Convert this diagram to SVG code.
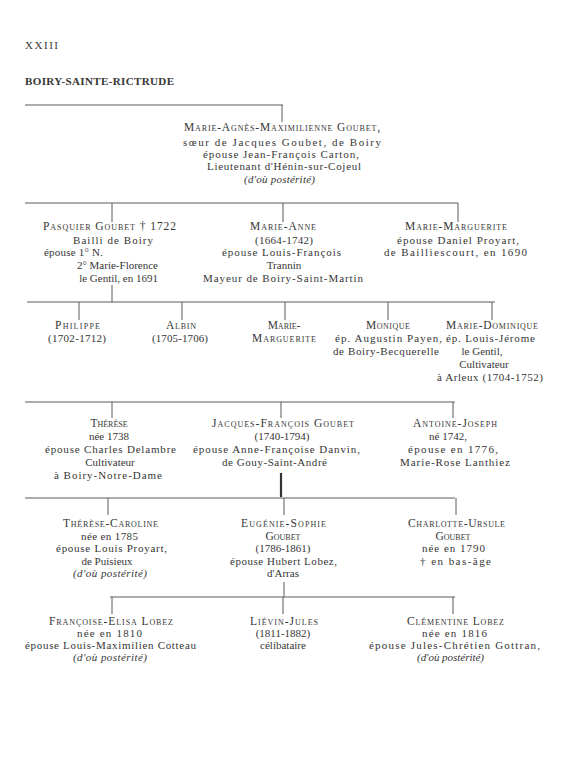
<svg xmlns="http://www.w3.org/2000/svg" width="575" height="768" viewBox="0 0 575 768">
<style>
text { font-family: "Liberation Serif", "DejaVu Serif", serif; font-size: 11px; fill: #363636; }
.sc { font-variant: small-caps; font-size: 11.5px; }
.i { font-style: italic; }
.m { text-anchor: middle; }
.e { text-anchor: end; }
.hd { font-size: 11px; }
.b { font-weight: bold; }
.ln { stroke: #5a5a5a; stroke-width: 1; fill: none; }
.thick { stroke: #333; stroke-width: 2.2; fill: none; }
</style>
<rect width="575" height="768" fill="#ffffff"/>
<g id="header">
<text class="hd" x="25" y="49" textLength="33" lengthAdjust="spacing">XXIII</text>
<text class="hd b" x="25" y="85" textLength="149" lengthAdjust="spacing">BOIRY-SAINTE-RICTRUDE</text>
</g>
<g id="connectors">
<path class="ln" d="M25,105 H283 M282,105 V122"/>
<path class="ln" d="M25,203 H458 M112,203 V222 M283,203 V222 M458,203 V222"/>
<path class="ln" d="M112,285 V302 M27,302 H495 M79,302 V320 M182,302 V320 M285,302 V320 M388,302 V320 M492,302 V320"/>
<path class="ln" d="M25,402 H455 M112,402 V418 M281,402 V418 M453,402 V418"/>
<path class="thick" d="M281,473 V497"/>
<path class="ln" d="M25,498 H455 M108,498 V515 M284,498 V515 M456,498 V515"/>
<path class="ln" d="M284,582 V597 M110,597 H455 M112,597 V614 M283,597 V614 M453,597 V614"/>
</g>
<g id="marie-agnes">
<text class="sc" x="184" y="131" textLength="196" lengthAdjust="spacing">Marie-Agnès-Maximilienne Goubet,</text>
<text x="183" y="145.5" textLength="198" lengthAdjust="spacing">sœur de Jacques Goubet, de Boiry</text>
<text x="203" y="158" textLength="156" lengthAdjust="spacing">épouse Jean-François Carton,</text>
<text x="207" y="170" textLength="154" lengthAdjust="spacing">Lieutenant d'Hénin-sur-Cojeul</text>
<text class="i" x="244" y="183" textLength="71" lengthAdjust="spacing">(d'où postérité)</text>
</g>
<g id="pasquier">
<text class="sc" x="43" y="230" textLength="133" lengthAdjust="spacing">Pasquier Goubet † 1722</text>
<text x="73" y="243.5" textLength="80" lengthAdjust="spacing">Bailli de Boiry</text>
<text x="44" y="256" textLength="59" lengthAdjust="spacing">épouse 1° N.</text>
<text class="e" x="158" y="268.5">2° Marie-Florence</text>
<text class="e" x="158" y="281.5">le Gentil, en 1691</text>
</g>
<g id="marie-anne">
<text class="sc" x="250" y="230" textLength="66" lengthAdjust="spacing">Marie-Anne</text>
<text x="255" y="243.5" textLength="58" lengthAdjust="spacing">(1664-1742)</text>
<text x="222" y="256" textLength="119" lengthAdjust="spacing">épouse Louis-François</text>
<text class="m" x="284" y="268.5">Trannin</text>
<text x="203" y="281.5" textLength="160" lengthAdjust="spacing">Mayeur de Boiry-Saint-Martin</text>
</g>
<g id="marie-marguerite-1">
<text class="sc" x="405" y="230" textLength="102" lengthAdjust="spacing">Marie-Marguerite</text>
<text x="397" y="243.5" textLength="122" lengthAdjust="spacing">épouse Daniel Proyart,</text>
<text x="384" y="256" textLength="143" lengthAdjust="spacing">de Bailliescourt, en 1690</text>
</g>
<g id="philippe">
<text class="sc" x="55" y="328.5" textLength="45" lengthAdjust="spacing">Philippe</text>
<text x="48" y="341.5" textLength="58" lengthAdjust="spacing">(1702-1712)</text>
</g>
<g id="albin">
<text class="sc" x="166" y="328.5" textLength="30" lengthAdjust="spacing">Albin</text>
<text x="152" y="341.5" textLength="56" lengthAdjust="spacing">(1705-1706)</text>
</g>
<g id="marie-marguerite-2">
<text class="sc m" x="284" y="328.5">Marie-</text>
<text class="sc" x="252" y="341.5" textLength="64" lengthAdjust="spacing">Marguerite</text>
</g>
<g id="monique">
<text class="sc" x="366" y="328.5" textLength="44" lengthAdjust="spacing">Monique</text>
<text x="335" y="341.5" textLength="107" lengthAdjust="spacing">ép. Augustin Payen,</text>
<text x="333" y="354.5" textLength="106" lengthAdjust="spacing">de Boiry-Becquerelle</text>
</g>
<g id="marie-dominique">
<text class="sc" x="446" y="328.5" textLength="92" lengthAdjust="spacing">Marie-Dominique</text>
<text x="446" y="341.5" textLength="89" lengthAdjust="spacing">ép. Louis-Jérome</text>
<text class="m" x="482" y="354.5">le Gentil,</text>
<text class="m" x="484" y="367.5">Cultivateur</text>
<text x="437" y="380.5" textLength="106" lengthAdjust="spacing">à Arleux (1704-1752)</text>
</g>
<g id="therese">
<text class="sc m" x="109" y="426.5">Thérèse</text>
<text class="m" x="109" y="440">née 1738</text>
<text x="45" y="453" textLength="131" lengthAdjust="spacing">épouse Charles Delambre</text>
<text class="m" x="110" y="466">Cultivateur</text>
<text x="54" y="479" textLength="108" lengthAdjust="spacing">à Boiry-Notre-Dame</text>
</g>
<g id="jacques-francois">
<text class="sc" x="212" y="426.5" textLength="142" lengthAdjust="spacing">Jacques-François Goubet</text>
<text class="m" x="282" y="440">(1740-1794)</text>
<text x="193" y="453" textLength="167" lengthAdjust="spacing">épouse Anne-Françoise Danvin,</text>
<text x="222" y="466" textLength="105" lengthAdjust="spacing">de Gouy-Saint-André</text>
</g>
<g id="antoine-joseph">
<text class="sc" x="413" y="426.5" textLength="84" lengthAdjust="spacing">Antoine-Joseph</text>
<text class="m" x="448" y="440">né 1742,</text>
<text x="408" y="453" textLength="90" lengthAdjust="spacing">épouse en 1776,</text>
<text x="400" y="466" textLength="110" lengthAdjust="spacing">Marie-Rose Lanthiez</text>
</g>
<g id="therese-caroline">
<text class="sc" x="63" y="526.5" textLength="95" lengthAdjust="spacing">Thérèse-Caroline</text>
<text x="81" y="539.5" textLength="57" lengthAdjust="spacing">née en 1785</text>
<text x="56" y="552" textLength="111" lengthAdjust="spacing">épouse Louis Proyart,</text>
<text class="m" x="107" y="564.5">de Puisieux</text>
<text class="i" x="73" y="577" textLength="74" lengthAdjust="spacing">(d'où postérité)</text>
</g>
<g id="eugenie-sophie">
<text class="sc" x="241" y="526.5" textLength="85" lengthAdjust="spacing">Eugénie-Sophie</text>
<text class="sc m" x="283" y="539.5">Goubet</text>
<text class="m" x="283" y="552">(1786-1861)</text>
<text x="230" y="564.5" textLength="107" lengthAdjust="spacing">épouse Hubert Lobez,</text>
<text class="m" x="283" y="577">d'Arras</text>
</g>
<g id="charlotte-ursule">
<text class="sc" x="408" y="526.5" textLength="97" lengthAdjust="spacing">Charlotte-Ursule</text>
<text class="sc m" x="453" y="539.5">Goubet</text>
<text x="422" y="552" textLength="63" lengthAdjust="spacing">née en 1790</text>
<text x="420" y="564.5" textLength="71" lengthAdjust="spacing">† en bas-âge</text>
</g>
<g id="francoise-elisa">
<text class="sc" x="49" y="624.5" textLength="124" lengthAdjust="spacing">Françoise-Elisa Lobez</text>
<text x="77" y="636.5" textLength="65" lengthAdjust="spacing">née en 1810</text>
<text x="25" y="648.5" textLength="171" lengthAdjust="spacing">épouse Louis-Maximilien Cotteau</text>
<text class="i" x="73" y="661" textLength="74" lengthAdjust="spacing">(d'où postérité)</text>
</g>
<g id="lievin-jules">
<text class="sc" x="250" y="624.5" textLength="68" lengthAdjust="spacing">Liévin-Jules</text>
<text class="m" x="283" y="636.5">(1811-1882)</text>
<text class="m" x="283" y="648.5">célibataire</text>
</g>
<g id="clementine">
<text class="sc" x="407" y="624.5" textLength="97" lengthAdjust="spacing">Clémentine Lobez</text>
<text x="422" y="636.5" textLength="65" lengthAdjust="spacing">née en 1816</text>
<text x="369" y="648.5" textLength="171" lengthAdjust="spacing">épouse Jules-Chrétien Gottran,</text>
<text class="i" x="417" y="661" textLength="67" lengthAdjust="spacing">(d'où postérité)</text>
</g>
</svg>
